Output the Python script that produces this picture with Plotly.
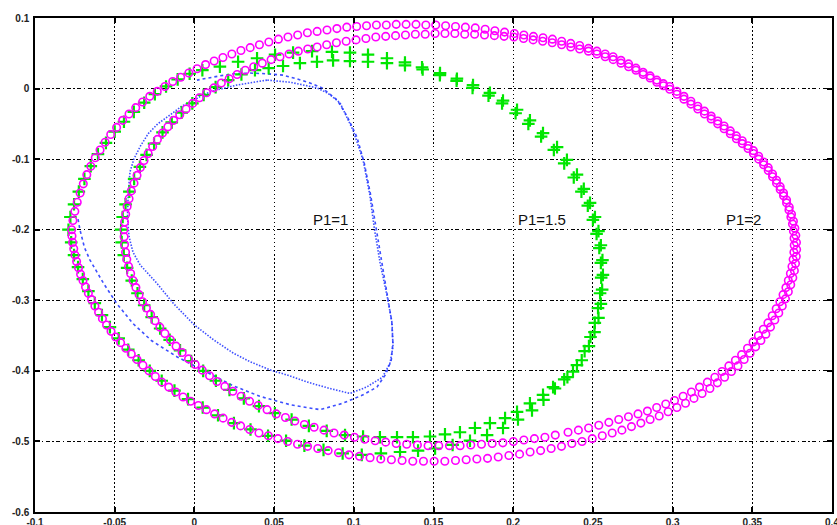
import plotly.graph_objects as go

# ---------------- data ----------------
x_ticks = [-0.1, -0.05, 0, 0.05, 0.1, 0.15, 0.2, 0.25, 0.3, 0.35, 0.4]
x_tick_text = ["-0.1", "-0.05", "0", "0.05", "0.1", "0.15", "0.2", "0.25", "0.3", "0.35", "0.4"]
y_ticks = [-0.6, -0.5, -0.4, -0.3, -0.2, -0.1, 0, 0.1]
y_tick_text = ["-0.6", "-0.5", "-0.4", "-0.3", "-0.2", "-0.1", "0", "0.1"]

labels = ["P1=1", "P1=1.5", "P1=2"]
label_x = [0.073, 0.2015, 0.332]
label_y = [-0.186, -0.186, -0.186]

# P1=2 : magenta circles, first (transient) lap
mag_out = [
(-0.0770,-0.200),(-0.0762,-0.187),(-0.0750,-0.174),(-0.0735,-0.161),(-0.0717,-0.148),(-0.0697,-0.135),(-0.0675,-0.122),(-0.0650,-0.110),(-0.0622,-0.098),(-0.0592,-0.087),
(-0.0560,-0.076),(-0.0525,-0.065),(-0.0488,-0.055),(-0.0450,-0.045),(-0.0410,-0.036),(-0.0368,-0.027),(-0.0325,-0.019),(-0.0280,-0.011),(-0.0233,-0.004),(-0.0185,0.003),
(-0.0136,0.010),(-0.0086,0.016),(-0.0035,0.022),(0.0017,0.028),(0.0070,0.034),(0.0124,0.039),(0.0179,0.044),(0.0235,0.049),(0.0292,0.054),(0.0350,0.058),
(0.0408,0.062),(0.0467,0.066),(0.0527,0.070),(0.0587,0.073),(0.0648,0.076),(0.0709,0.079),(0.0770,0.081),(0.0832,0.083),(0.0894,0.085),(0.0956,0.087),
(0.1018,0.088),(0.1080,0.089),(0.1142,0.090),(0.1204,0.090),(0.1266,0.091),(0.1328,0.091),(0.1390,0.091),(0.1452,0.090),(0.1514,0.090),(0.1576,0.089),
(0.1638,0.088),(0.1700,0.087),(0.1762,0.086),(0.1824,0.084),(0.1885,0.082),(0.1946,0.080),
(0.2007,0.078),(0.2067,0.076),(0.2127,0.074),(0.2187,0.072),(0.2246,0.070),(0.2304,0.067),(0.2361,0.064),(0.2417,0.061),(0.2472,0.057),(0.2525,0.053),
(0.2577,0.049),(0.2627,0.045),(0.2676,0.040),(0.2724,0.035),(0.2770,0.029),(0.2815,0.023),(0.2859,0.018),(0.2901,0.012),(0.2942,0.007),(0.2982,0.003),
(0.3027,-0.004),(0.3071,-0.011),(0.3115,-0.018),(0.3158,-0.025),(0.3200,-0.032),(0.3242,-0.039),(0.3283,-0.046),(0.3323,-0.053),(0.3362,-0.060),(0.3400,-0.067),
(0.3437,-0.074),(0.3473,-0.081),(0.3507,-0.088),(0.3540,-0.096),(0.3571,-0.104),(0.3600,-0.112),(0.3627,-0.121),(0.3652,-0.130),(0.3675,-0.139),(0.3696,-0.148),
(0.3715,-0.158),(0.3732,-0.168),(0.3746,-0.178),(0.3758,-0.188),(0.3767,-0.198),(0.3773,-0.208),(0.3777,-0.218),(0.3778,-0.228),(0.3776,-0.238),(0.3771,-0.248),
(0.3764,-0.258),(0.3754,-0.268),(0.3741,-0.278),(0.3726,-0.288),(0.3708,-0.298),(0.3688,-0.308),(0.3666,-0.318),(0.3641,-0.328),(0.3614,-0.338),(0.3585,-0.348),
(0.3554,-0.357),(0.3521,-0.366),(0.3486,-0.375),(0.3449,-0.384),(0.3410,-0.393),(0.3369,-0.401),(0.3326,-0.409),(0.3281,-0.417),(0.3234,-0.425),(0.3185,-0.432),
(0.3134,-0.439),(0.3081,-0.446),(0.3027,-0.452),(0.2972,-0.458),(0.2916,-0.464),(0.2859,-0.469),(0.2801,-0.474),(0.2742,-0.479),(0.2682,-0.484),(0.2621,-0.488),
(0.2559,-0.492),(0.2496,-0.496),(0.2432,-0.500),(0.2368,-0.503),(0.2303,-0.507),(0.2238,-0.510),(0.2172,-0.513),(0.2106,-0.515),(0.2040,-0.518),(0.1973,-0.520),
(0.1906,-0.522),(0.1839,-0.524),(0.1772,-0.525),(0.1705,-0.526),(0.1638,-0.527),(0.1571,-0.528),(0.1504,-0.528),(0.1437,-0.528),(0.1370,-0.528),(0.1303,-0.527),
(0.1236,-0.526),(0.1169,-0.525),(0.1102,-0.523),(0.1036,-0.521),(0.0970,-0.519),(0.0904,-0.516),(0.0839,-0.513),(0.0774,-0.510),(0.0710,-0.507),(0.0647,-0.504),
(0.0585,-0.500),(0.0524,-0.496),(0.0464,-0.492),(0.0405,-0.488),(0.0347,-0.483),(0.0290,-0.478),(0.0234,-0.473),(0.0180,-0.467),(0.0127,-0.461),(0.0075,-0.455),
(0.0025,-0.449),(-0.0024,-0.443),(-0.0071,-0.437),(-0.0117,-0.430),(-0.0161,-0.423),(-0.0204,-0.416),(-0.0245,-0.408),(-0.0285,-0.400),(-0.0323,-0.392),(-0.0360,-0.384),
(-0.0396,-0.376),(-0.0430,-0.368),(-0.0463,-0.360),(-0.0494,-0.352),(-0.0523,-0.344),(-0.0551,-0.335),(-0.0577,-0.326),(-0.0601,-0.317),(-0.0624,-0.308),(-0.0645,-0.299),
(-0.0665,-0.290),(-0.0683,-0.281),(-0.0699,-0.272),(-0.0714,-0.263),(-0.0727,-0.254),(-0.0739,-0.245),(-0.0749,-0.236),(-0.0757,-0.227),(-0.0764,-0.218),(-0.0768,-0.209),
]

# P1=2 : magenta circles, second (limit cycle) lap
mag_in = [
(-0.0442,-0.200),(-0.0438,-0.189),(-0.0431,-0.178),(-0.0422,-0.167),(-0.0410,-0.156),(-0.0396,-0.145),(-0.0379,-0.134),(-0.0360,-0.123),(-0.0339,-0.112),(-0.0316,-0.102),
(-0.0290,-0.092),(-0.0262,-0.082),(-0.0232,-0.072),(-0.0200,-0.063),(-0.0166,-0.054),(-0.0130,-0.045),(-0.0092,-0.037),(-0.0052,-0.029),(-0.0011,-0.021),(0.0032,-0.013),
(0.0076,-0.006),(0.0122,0.001),(0.0169,0.008),(0.0218,0.014),(0.0268,0.020),(0.0319,0.026),(0.0372,0.031),(0.0426,0.036),(0.0481,0.041),(0.0537,0.045),
(0.0594,0.049),(0.0652,0.053),(0.0711,0.056),(0.0770,0.059),(0.0830,0.062),(0.0891,0.065),(0.0952,0.067),(0.1014,0.069),(0.1076,0.071),(0.1138,0.073),
(0.1200,0.074),(0.1262,0.075),(0.1324,0.076),(0.1386,0.077),(0.1448,0.077),(0.1510,0.078),(0.1572,0.078),(0.1634,0.078),(0.1696,0.077),(0.1758,0.077),
(0.1820,0.076),(0.1882,0.075),(0.1943,0.074),(0.2004,0.073),(0.2065,0.071),(0.2125,0.069),(0.2185,0.067),(0.2245,0.065),(0.2304,0.062),(0.2361,0.059),
(0.2417,0.056),(0.2472,0.053),(0.2525,0.049),(0.2577,0.045),(0.2627,0.041),(0.2676,0.036),(0.2724,0.031),(0.2770,0.026),(0.2815,0.020),(0.2859,0.015),
(0.2901,0.009),(0.2942,0.004),(0.2982,-0.001),(0.3027,-0.008),(0.3071,-0.015),(0.3115,-0.022),(0.3158,-0.029),(0.3200,-0.036),(0.3242,-0.043),(0.3283,-0.050),
(0.3323,-0.057),(0.3362,-0.064),(0.3400,-0.071),(0.3437,-0.078),(0.3473,-0.085),(0.3507,-0.092),(0.3540,-0.100),(0.3571,-0.108),(0.3600,-0.116),(0.3627,-0.125),
(0.3652,-0.134),(0.3675,-0.143),(0.3696,-0.152),(0.3715,-0.162),(0.3730,-0.172),(0.3742,-0.182),(0.3752,-0.192),(0.3758,-0.202),(0.3762,-0.212),(0.3763,-0.222),
(0.3761,-0.232),(0.3756,-0.242),(0.3749,-0.252),(0.3739,-0.262),(0.3726,-0.272),(0.3711,-0.282),(0.3693,-0.292),(0.3673,-0.302),(0.3650,-0.312),(0.3625,-0.322),
(0.3598,-0.332),(0.3569,-0.341),(0.3538,-0.350),(0.3505,-0.359),(0.3470,-0.368),(0.3433,-0.377),(0.3394,-0.385),(0.3353,-0.393),(0.3310,-0.401),(0.3265,-0.409),
(0.3218,-0.416),(0.3169,-0.423),(0.3118,-0.430),(0.3066,-0.436),(0.3012,-0.442),(0.2957,-0.447),(0.2900,-0.452),(0.2842,-0.457),(0.2783,-0.461),(0.2723,-0.465),
(0.2662,-0.469),(0.2600,-0.473),(0.2537,-0.477),(0.2473,-0.481),(0.2409,-0.484),(0.2344,-0.487),(0.2264,-0.491),(0.2199,-0.494),(0.2133,-0.496),(0.2067,-0.498),
(0.2001,-0.500),(0.1935,-0.502),(0.1868,-0.503),(0.1801,-0.504),(0.1734,-0.505),(0.1667,-0.506),(0.1600,-0.506),(0.1533,-0.506),(0.1466,-0.506),(0.1399,-0.505),
(0.1332,-0.504),(0.1266,-0.503),(0.1200,-0.501),(0.1134,-0.499),(0.1069,-0.497),(0.1004,-0.494),(0.0940,-0.491),(0.0876,-0.488),(0.0813,-0.484),(0.0751,-0.480),
(0.0690,-0.476),(0.0630,-0.471),(0.0571,-0.466),(0.0513,-0.461),(0.0456,-0.455),(0.0400,-0.449),(0.0346,-0.443),(0.0293,-0.436),(0.0241,-0.429),(0.0191,-0.422),
(0.0142,-0.415),(0.0095,-0.407),(0.0049,-0.399),(0.0005,-0.391),(-0.0037,-0.383),(-0.0077,-0.374),(-0.0115,-0.365),(-0.0151,-0.356),(-0.0185,-0.347),(-0.0217,-0.338),
(-0.0247,-0.329),(-0.0275,-0.320),(-0.0301,-0.311),(-0.0325,-0.302),(-0.0347,-0.292),(-0.0367,-0.282),(-0.0385,-0.272),(-0.0400,-0.262),(-0.0413,-0.252),(-0.0424,-0.242),
(-0.0432,-0.232),(-0.0438,-0.221),(-0.0441,-0.210),
]

# P1=1.5 : green plus markers, first lap
green_out = [
(-0.0790,-0.200),(-0.0778,-0.182),(-0.0755,-0.164),(-0.0725,-0.146),(-0.0690,-0.128),(-0.0650,-0.110),(-0.0605,-0.093),(-0.0555,-0.077),(-0.0500,-0.061),(-0.0442,-0.047),
(-0.0380,-0.033),(-0.0315,-0.020),(-0.0248,-0.008),(-0.0178,0.003),(-0.0105,0.013),(-0.0030,0.021),(0.0050,0.026),(0.0160,0.031),(0.0274,0.038),(0.0393,0.043),
(0.0506,0.048),(0.0619,0.051),(0.0738,0.053),(0.0863,0.052),(0.0976,0.051),(0.1089,0.048),(0.1208,0.043),(0.1321,0.037),(0.1428,0.030),(0.1541,0.022),
(0.1647,0.014),(0.1748,0.005),(0.1854,-0.006),(0.1936,-0.017),(0.2024,-0.030),(0.2105,-0.045),(0.2187,-0.063),(0.2275,-0.083),(0.2337,-0.101),(0.2400,-0.122),
(0.2443,-0.142),(0.2482,-0.162),(0.2513,-0.182),(0.2535,-0.202),(0.2550,-0.222),(0.2560,-0.243),(0.2563,-0.264),(0.2558,-0.285),(0.2550,-0.305),(0.2535,-0.325),
(0.2510,-0.345),(0.2475,-0.365),(0.2430,-0.385),(0.2375,-0.401),(0.2320,-0.412),(0.2262,-0.425),(0.2190,-0.441),(0.2118,-0.456),(0.2030,-0.469),(0.1936,-0.481),
(0.1836,-0.491),(0.1729,-0.499),(0.1620,-0.505),(0.1510,-0.510),(0.1403,-0.513),(0.1290,-0.515),(0.1170,-0.517),(0.1050,-0.519),(0.0930,-0.517),(0.0810,-0.512),
(0.0690,-0.506),(0.0575,-0.499),(0.0462,-0.492),(0.0352,-0.483),(0.0248,-0.474),(0.0148,-0.463),(0.0052,-0.452),(-0.0040,-0.440),(-0.0125,-0.428),(-0.0205,-0.414),
(-0.0280,-0.400),(-0.0350,-0.385),(-0.0415,-0.370),(-0.0475,-0.354),(-0.0530,-0.338),(-0.0580,-0.321),(-0.0625,-0.304),(-0.0665,-0.287),(-0.0700,-0.270),(-0.0730,-0.253),
(-0.0755,-0.236),(-0.0773,-0.218),
]

# P1=1.5 : green plus markers, second lap
green_in = [
(-0.0460,-0.200),(-0.0450,-0.182),(-0.0432,-0.164),(-0.0408,-0.146),(-0.0378,-0.128),(-0.0342,-0.111),(-0.0300,-0.094),(-0.0253,-0.078),(-0.0200,-0.062),(-0.0142,-0.048),
(-0.0080,-0.034),(-0.0013,-0.021),(0.0058,-0.009),(0.0133,0.002),(0.0212,0.012),(0.0295,0.020),(0.0380,0.026),(0.0466,0.029),(0.0556,0.032),(0.0662,0.036),
(0.0769,0.038),(0.0870,0.040),(0.0976,0.039),(0.1089,0.038),(0.1208,0.036),(0.1321,0.033),(0.1432,0.027),(0.1540,0.019),(0.1645,0.011),(0.1745,0.001),
(0.1845,-0.010),(0.1930,-0.021),(0.2015,-0.035),(0.2095,-0.050),(0.2175,-0.068),(0.2255,-0.087),(0.2320,-0.106),(0.2380,-0.126),(0.2428,-0.146),(0.2468,-0.166),
(0.2500,-0.186),(0.2523,-0.206),(0.2540,-0.226),(0.2550,-0.247),(0.2552,-0.268),(0.2545,-0.290),(0.2532,-0.311),(0.2512,-0.332),(0.2485,-0.352),(0.2448,-0.372),
(0.2400,-0.392),(0.2340,-0.409),(0.2250,-0.423),(0.2187,-0.434),(0.2105,-0.446),(0.2024,-0.458),(0.1949,-0.467),(0.1854,-0.474),(0.1760,-0.481),(0.1666,-0.487),
(0.1572,-0.490),(0.1478,-0.493),(0.1371,-0.494),(0.1271,-0.494),(0.1164,-0.494),(0.1058,-0.493),(0.0945,-0.491),(0.0830,-0.485),(0.0718,-0.478),(0.0610,-0.469),
(0.0505,-0.460),(0.0405,-0.450),(0.0310,-0.439),(0.0220,-0.427),(0.0135,-0.414),(0.0055,-0.400),(-0.0020,-0.386),(-0.0090,-0.371),(-0.0155,-0.356),(-0.0215,-0.340),
(-0.0268,-0.324),(-0.0315,-0.307),(-0.0357,-0.290),(-0.0393,-0.272),(-0.0422,-0.254),(-0.0443,-0.236),(-0.0456,-0.218),
]

# P1=1 : blue, first lap (dashed look)
blue_tr = [
(-0.0730,-0.185),(-0.0718,-0.200),(-0.0690,-0.225),(-0.0655,-0.243),(-0.0570,-0.276),(-0.0486,-0.305),(-0.0385,-0.333),(-0.0270,-0.357),(-0.0110,-0.380),(0.0054,-0.399),
(0.0242,-0.421),(0.0410,-0.436),(0.0600,-0.448),(0.0788,-0.455),(0.0930,-0.446),(0.1058,-0.434),(0.1145,-0.423),(0.1200,-0.405),(0.1235,-0.385),(0.1245,-0.360),
(0.1238,-0.330),(0.1212,-0.295),(0.1175,-0.247),(0.1140,-0.200),(0.1105,-0.150),(0.1065,-0.105),(0.1020,-0.069),(0.0960,-0.040),(0.0895,-0.016),(0.0800,0.001),
(0.0725,0.008),(0.0640,0.014),(0.0556,0.019),(0.0450,0.021),(0.0349,0.022),(0.0250,0.021),(0.0160,0.018),(0.0016,0.012),
]

# P1=1 : blue, limit cycle (dotted)
blue_cyc = [
(0.0455,0.012),(0.0360,0.009),(0.0267,0.005),(0.0140,-0.002),(0.0060,-0.008),(0.0000,-0.016),(-0.0080,-0.025),(-0.0150,-0.037),(-0.0230,-0.050),(-0.0290,-0.064),
(-0.0340,-0.082),(-0.0380,-0.100),(-0.0404,-0.118),(-0.0415,-0.148),(-0.0420,-0.182),(-0.0410,-0.210),(-0.0385,-0.232),(-0.0340,-0.250),(-0.0235,-0.276),(-0.0130,-0.305),
(0.0000,-0.335),(0.0120,-0.356),(0.0245,-0.375),(0.0349,-0.387),(0.0490,-0.400),(0.0556,-0.404),(0.0725,-0.417),(0.0850,-0.425),(0.0976,-0.432),(0.1080,-0.423),
(0.1180,-0.409),(0.1227,-0.389),(0.1246,-0.366),(0.1240,-0.332),(0.1210,-0.295),(0.1165,-0.247),(0.1130,-0.200),(0.1100,-0.150),(0.1058,-0.101),(0.0995,-0.059),
(0.0913,-0.020),(0.0840,-0.007),(0.0769,0.001),(0.0600,0.009),(0.0455,0.012),
]


def xs(pts):
    return [p[0] for p in pts]


def ys(pts):
    return [p[1] for p in pts]


fig = go.Figure()

BLUE = "rgba(40,60,255,0.9)"
fig.add_trace(go.Scatter(x=xs(blue_tr), y=ys(blue_tr), mode="lines",
                         line=dict(color=BLUE, width=1.6, dash="3px,3px"), showlegend=False))
fig.add_trace(go.Scatter(x=xs(blue_cyc), y=ys(blue_cyc), mode="lines",
                         line=dict(color=BLUE, width=1.6, dash="1.5px,1.5px"), showlegend=False))

GREEN = "#00e600"
for pts in (green_out, green_in):
    fig.add_trace(go.Scatter(x=xs(pts), y=ys(pts), mode="markers",
                             marker=dict(symbol="cross-thin-open", size=9, color=GREEN,
                                         line=dict(color=GREEN, width=2.2)),
                             showlegend=False))

for pts in (mag_out, mag_in):
    fig.add_trace(go.Scatter(x=xs(pts), y=ys(pts), mode="markers",
                             marker=dict(symbol="circle-open", size=7.5, color="#ff00ff",
                                         line=dict(color="#ff00ff", width=1.6)),
                             showlegend=False))

for t, lx, ly in zip(labels, label_x, label_y):
    fig.add_annotation(x=lx, y=ly, text=t, showarrow=False, xanchor="left", yanchor="middle",
                       font=dict(family="Liberation Sans, Arial", size=15, color="#111"))

tickfont = dict(family="Liberation Sans, Arial", size=10, color="#222", weight="bold")
axis_common = dict(showgrid=True, gridcolor="black", gridwidth=1,
                   ticks="inside", ticklen=5, tickcolor="black", tickwidth=1.5,
                   showline=True, linecolor="black", linewidth=1.5, mirror="ticks",
                   zeroline=False, tickfont=tickfont, automargin=False,
                   ticklabeloverflow="allow")

fig.update_xaxes(range=[-0.1, 0.4], tickvals=x_ticks, ticktext=x_tick_text,
                 griddash="1.5px,2.5px", ticklabelstandoff=0, **axis_common)
fig.update_yaxes(range=[-0.6, 0.1], tickvals=y_ticks, ticktext=y_tick_text,
                 griddash="4px,2.5px,1.5px,2.5px", ticklabelstandoff=2, **axis_common)

fig.update_layout(width=837, height=525, margin=dict(l=35, r=5, t=18, b=13),
                  paper_bgcolor="white", plot_bgcolor="white", showlegend=False)

fig.write_html("out.html", config={"displayModeBar": False},
               post_script="document.body.style.margin='0px';document.body.style.overflow='hidden';")
